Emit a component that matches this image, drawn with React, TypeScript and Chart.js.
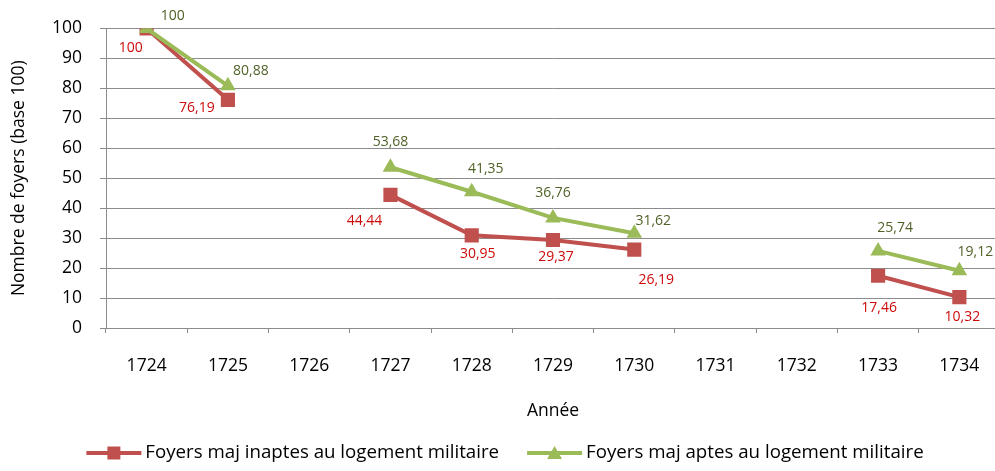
import React, { useEffect, useRef } from "react";
import { Chart, registerables } from "chart.js";

Chart.register(...registerables);

const years = ["1724", "1725", "1726", "1727", "1728", "1729", "1730", "1731", "1732", "1733", "1734"];
const inaptesValues: (number | null)[] = [100, 76.19, null, 44.44, 30.95, 29.37, 26.19, null, null, 17.46, 10.32];
const aptesValues: (number | null)[] = [100, 80.88, null, 53.68, 45.5, 36.76, 31.62, null, null, 25.74, 19.12];
const inaptesLabels: (string | null)[] = ["100", "76,19", null, "44,44", "30,95", "29,37", "26,19", null, null, "17,46", "10,32"];
const aptesLabels: (string | null)[] = ["100", "80,88", null, "53,68", "41,35", "36,76", "31,62", null, null, "25,74", "19,12"];
const yTicks = [0, 10, 20, 30, 40, 50, 60, 70, 80, 90, 100];

const seriesNames = ["Foyers maj inaptes au logement militaire", "Foyers maj aptes au logement militaire"];

// label offsets (styling), relative to each point
const inaptesOffsets: [number, number][] = [[-16, 20], [-31, 8], [0, 0], [-26, 26], [6, 19], [3, 17], [22, 30], [0, 0], [0, 0], [1, 32], [3, 20]];
const aptesOffsets: [number, number][] = [[26, -12], [23, -15], [0, 0], [0, -25], [14, -23], [0, -25], [19, -12], [0, 0], [0, 0], [17, -23], [16, -19]];

const RED = "#C0504D";
const GREEN = "#9BBB59";
const RED_TEXT = "#CC0A0A";
const GREEN_TEXT = "#4F6228";
const GRID = "#8C8C8C";
const FONT = "'Open Sans', 'DejaVu Sans', sans-serif";

const labelPlugin = {
  id: "valueLabels",
  afterDatasetsDraw(chart: any) {
    const ctx = chart.ctx;
    ctx.save();
    ctx.font = `14px ${FONT}`;
    ctx.textAlign = "center";
    ctx.textBaseline = "middle";
    const cfg = [
      { texts: aptesLabels, offs: aptesOffsets, color: GREEN_TEXT },
      { texts: inaptesLabels, offs: inaptesOffsets, color: RED_TEXT },
    ];
    chart.data.datasets.forEach((_ds: any, i: number) => {
      const meta = chart.getDatasetMeta(i);
      const c = cfg[i];
      meta.data.forEach((pt: any, j: number) => {
        const t = c.texts[j];
        if (t == null || pt.skip) return;
        ctx.fillStyle = c.color;
        ctx.fillText(t, pt.x + c.offs[j][0], pt.y + c.offs[j][1]);
      });
    });
    ctx.restore();
  },
};

const legendPlugin = {
  id: "customLegend",
  afterDraw(chart: any) {
    const ctx = chart.ctx;
    ctx.save();
    ctx.font = `18.7px ${FONT}`;
    ctx.textBaseline = "middle";
    const items = [
      { text: seriesNames[0], color: RED, style: "rect" },
      { text: seriesNames[1], color: GREEN, style: "triangle" },
    ];
    const sampleW = 55;
    const gap = 4;
    const itemGap = 28;
    const widths = items.map((it) => sampleW + gap + ctx.measureText(it.text).width);
    const total = widths.reduce((a, b) => a + b, 0) + itemGap * (items.length - 1);
    let x = (chart.width - total) / 2;
    const y = chart.height - 18;
    items.forEach((it, i) => {
      ctx.strokeStyle = it.color;
      ctx.lineWidth = 4;
      ctx.beginPath();
      ctx.moveTo(x, y);
      ctx.lineTo(x + sampleW, y);
      ctx.stroke();
      const cx = x + sampleW / 2;
      ctx.fillStyle = it.color;
      ctx.beginPath();
      if (it.style === "rect") {
        ctx.rect(cx - 6.5, y - 6.5, 13, 13);
      } else {
        ctx.moveTo(cx, y - 7);
        ctx.lineTo(cx + 7.5, y + 6);
        ctx.lineTo(cx - 7.5, y + 6);
        ctx.closePath();
      }
      ctx.fill();
      ctx.fillStyle = "#000";
      ctx.fillText(it.text, x + sampleW + gap, y);
      x += widths[i] + itemGap;
    });
    ctx.restore();
  },
};

export default function App() {
  const ref = useRef<HTMLCanvasElement | null>(null);
  useEffect(() => {
    if (!ref.current) return;
    const chart = new Chart(ref.current, {
      type: "line",
      data: {
        labels: years,
        datasets: [
          {
            label: seriesNames[1],
            data: aptesValues,
            borderColor: GREEN,
            backgroundColor: GREEN,
            borderWidth: 4,
            pointStyle: "triangle",
            pointRadius: 9,
            pointBorderWidth: 0,
            pointBackgroundColor: GREEN,
            spanGaps: false,
            order: 0,
          },
          {
            label: seriesNames[0],
            data: inaptesValues,
            borderColor: RED,
            backgroundColor: RED,
            borderWidth: 4,
            pointStyle: "rect",
            pointRadius: 10,
            pointBorderWidth: 0,
            pointBackgroundColor: RED,
            spanGaps: false,
            order: 1,
          },
        ],
      },
      options: {
        animation: false,
        responsive: false,
        devicePixelRatio: 1,
        layout: { padding: { top: 27, left: 0, right: 9, bottom: 38 } },
        plugins: {
          legend: { display: false },
          tooltip: { enabled: false },
        },
        scales: {
          x: {
            type: "category",
            offset: true,
            afterFit: (s: any) => {
              s.height = 105;
            },
            grid: {
              offset: true,
              drawOnChartArea: false,
              drawTicks: true,
              tickLength: 5,
              color: GRID,
            },
            border: { color: GRID, width: 1 },
            ticks: {
              color: "#000",
              font: { family: FONT, size: 17.5 },
              padding: 23,
              maxRotation: 0,
              autoSkip: false,
            },
            title: {
              display: true,
              text: "Année",
              color: "#000",
              font: { family: FONT, size: 17.5 },
              padding: { top: 0, bottom: 11 },
            },
          },
          y: {
            min: 0,
            max: 100,
            afterFit: (s: any) => {
              s.width = 106;
            },
            afterBuildTicks: (s: any) => {
              s.ticks = yTicks.map((v) => ({ value: v }));
            },
            grid: {
              color: GRID,
              lineWidth: 1,
              drawTicks: true,
              tickLength: 6,
            },
            border: { color: GRID, width: 1 },
            ticks: {
              color: "#000",
              font: { family: FONT, size: 17.5 },
              padding: 18,
            },
            title: {
              display: true,
              text: "Nombre de foyers (base 100)",
              color: "#000",
              font: { family: FONT, size: 17.5 },
              padding: { top: 9, bottom: 0 },
            },
          },
        },
      },
      plugins: [labelPlugin, legendPlugin],
    } as any);
    return () => chart.destroy();
  }, []);

  return (
    <div style={{ position: "absolute", left: 0, top: 0, width: 995, height: 471, overflow: "hidden", background: "#fff" }}>
      <canvas ref={ref} width={1010} height={471} style={{ display: "block", width: 1010, height: 471 }} />
    </div>
  );
}
